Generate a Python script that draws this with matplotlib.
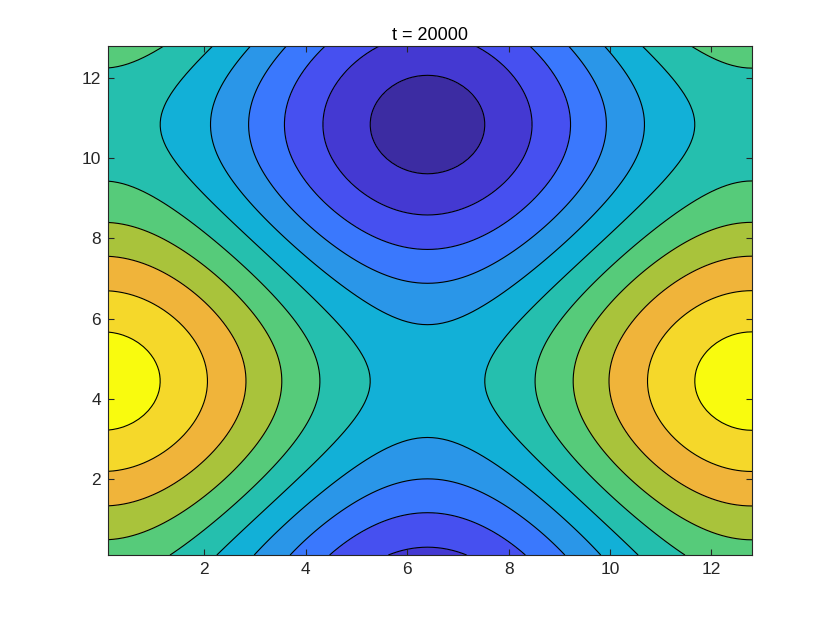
import numpy as np
import matplotlib
matplotlib.use('Agg')
import matplotlib.pyplot as plt

# periodic domain [0, 12.8], grid spacing 0.1
domain_length = 12.8
n_grid = 128

# field = sum of cosine modes: amp * cos(kx*K*x + ky*K*(y - y_shift))
mode_kx = [1, 0]
mode_ky = [0, 1]
mode_amp = [1.0, 0.85]
y_shift = 4.44

# contour levels and band colours (lowest band first)
levels = [-1.70, -1.38, -1.035, -0.69, -0.345, 0.0, 0.345, 0.69, 1.035, 1.38, 1.70]
band_colors = ['#3c2ca2', '#4439d2', '#4650f0', '#3a78fd', '#2a96e8', '#12b0d7',
               '#25bfae', '#56cb7a', '#a9c33b', '#f0b43a', '#f5d82a', '#f9fb0e']
ticks = [2, 4, 6, 8, 10, 12]
title = 't = 20000'

plt.rcParams['font.family'] = ['Liberation Sans', 'DejaVu Sans']

K = 2 * np.pi / domain_length
x = np.arange(1, n_grid + 1) * domain_length / n_grid
y = np.arange(1, n_grid + 1) * domain_length / n_grid
X, Y = np.meshgrid(x, y)
F = np.zeros_like(X)
for kx, ky, a in zip(mode_kx, mode_ky, mode_amp):
    F += a * np.cos(kx * K * X + ky * K * (Y - y_shift))

fig = plt.figure(figsize=(8.3, 6.23), dpi=100)
ax = fig.add_axes([0.1301, 0.1091, 0.776, 0.8171])

fill_levels = [-10.0] + levels + [10.0]
ax.contourf(X, Y, F, levels=fill_levels, colors=band_colors)
ax.contour(X, Y, F, levels=levels, colors='k', linewidths=0.8, linestyles='solid')

ax.set_xlim(x[0], x[-1])
ax.set_ylim(y[0], y[-1])
ax.set_xticks(ticks)
ax.set_yticks(ticks)
ax.tick_params(direction='in', top=True, right=True, length=4.5, width=0.8,
               color='#262626', labelsize=12.5, labelcolor='#262626')
ax.tick_params(axis='x', pad=5)
ax.tick_params(axis='y', pad=5)
for s in ax.spines.values():
    s.set_color('#262626')
    s.set_linewidth(0.8)
ax.set_title(title, fontsize=13, pad=4, color='black')

fig.savefig('out.png', dpi=100)
